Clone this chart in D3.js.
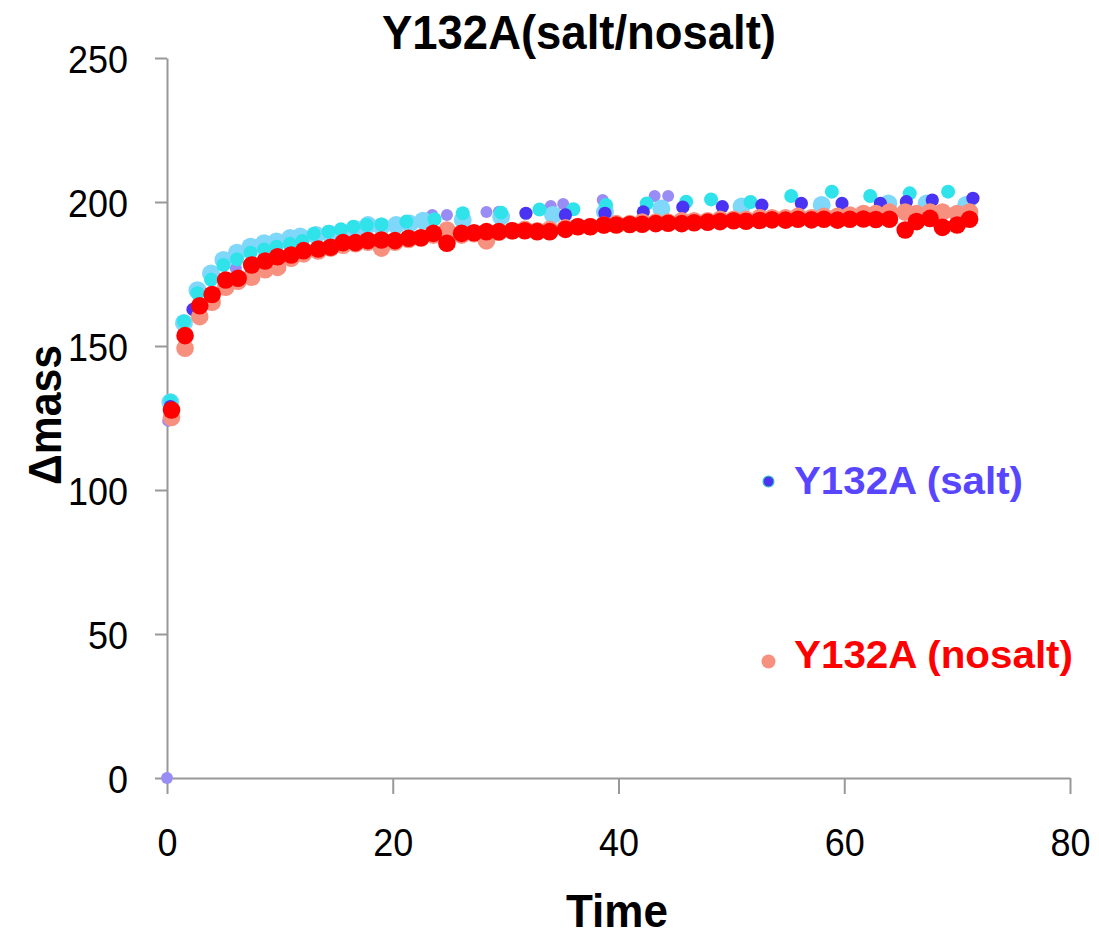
<!DOCTYPE html>
<html><head><meta charset="utf-8">
<script src="https://cdn.jsdelivr.net/npm/d3@7"></script>
<style>body{margin:0;background:#fff}svg{display:block}</style>
</head><body>
<svg id="c" width="1099" height="936"></svg>
<script>
// ---- data ----
const title = "Y132A(salt/nosalt)";
const xLabel = "Time";
const yLabel = "Δmass";
const xTicks = [0, 20, 40, 60, 80];
const yTicks = [0, 50, 100, 150, 200, 250];
const legendLabels = ["Y132A (salt)", "Y132A (nosalt)"];

// salt replicates
const purpleT = [0,0.1,1.5,2.7,3.9,5.0,6.1,7.4,8.6,9.7,10.8,12.1,14.4,15.6,19.0,20.2,23.5,24.8,28.3,29.4,34.0,35.1,38.6,43.2,44.4];
const purpleV = [0,124,156,162,168,172.5,177,179,181,183,185.1,187,189.0,190.3,192.4,192.8,195.5,195.5,196.5,196.6,198.6,199.3,200.7,202.1,202.1];

const lightBlueT = [0.3,1.5,2.7,3.9,5.0,6.2,7.4,8.6,9.7,10.9,11.8,13.2,14.4,15.5,16.7,17.8,19.0,20.3,21.5,22.7,26.2,29.6,34.2,38.8,43.8,50.9,58.0,63.9,67.3,70.8];
const lightBlueV = [130.5,158,169.4,175.2,179.9,182.4,184.5,185.7,186.3,187.5,188.0,188.5,189.0,189.5,190.5,192.0,191.5,192.0,192.5,193.5,193.8,194.9,195.5,196.5,197.7,198.4,199.0,199.5,199.5,199.0];

const cyanT = [0.3,1.5,2.7,3.9,5.0,6.2,7.4,8.6,9.7,10.9,12.0,13.0,14.3,15.4,16.5,17.7,19.0,21.2,23.7,26.2,29.6,33.0,36.0,38.9,42.5,46.0,48.2,51.7,55.3,58.9,62.3,65.8,69.2];
const cyanV = [131,158.5,168.3,173,178.1,180.1,182.4,183.5,184.5,185.5,186.5,189.0,189.7,190.5,191.4,192.0,192.2,193.2,194,196.1,196.3,197.4,197.5,199.0,199.5,200.1,200.9,200.0,202.1,203.6,202.1,203.0,203.6];

const darkBlueT = [0.3,2.3,31.8,35.3,38.8,42.2,45.7,49.2,52.7,56.2,59.8,63.2,65.5,67.8,71.4];
const darkBlueV = [129,162.7,196.1,195.5,196.1,196.6,198.2,198.4,198.9,199.5,199.5,199.5,200.1,200.7,201.3];

// nosalt replicates
const nosaltT = [0.4,1.6,2.9,4.0,5.2,6.3,7.5,8.7,9.8,11.0,12.1,13.4,14.5,15.6,16.7,17.8,19.0,20.2,21.4,22.5,23.6,24.8,26.1,27.2,28.3,29.4,30.6,31.7,32.8,33.9,35.3,36.4,37.5,38.7,39.8,41.0,42.1,43.3,44.4,45.6,46.7,47.9,49.0,50.2,51.3,52.5,53.6,54.8,55.9,57.1,58.2,59.4,60.5,61.7,62.8,64.0,65.4,66.4,67.6,68.7,70.0,71.1];
const salmonV = [125.2,149.2,160.2,165.2,170.4,172.5,173.9,176.5,177.3,180.5,182.0,
 183.0,184.0,185.0,185.5,186.0,184.0,186.0,187.0,187.5,188.5,190.3,
 188.5,189.0,186.5,189.5,190.0,190.5,190.0,190.5,191.0,191.5,191.5,192.0,
 192.5,192.5,193.0,193.0,193.0,193.5,193.5,193.5,194.0,194.0,194.0,194.5,194.5,194.5,195.0,194.5,195.0,195.0,195.5,196.0,196.0,196.5,
 196.5,196.0,196.5,196.5,196.0,196.5];
const redV = [127.8,153.6,164.0,167.9,172.9,173.5,178.1,179.5,181.0,181.6,183.1,
 183.7,184.3,185.9,185.9,186.6,186.8,186.6,187.4,187.6,189.1,185.7,
 189.1,189.3,189.7,189.7,190.0,190.0,189.7,189.7,190.5,191.4,191.4,192.0,
 192.0,192.2,192.3,192.5,192.6,192.5,192.8,193.0,193.2,193.5,193.3,193.6,193.8,193.7,194.0,193.8,194.0,193.7,194.0,194.1,193.9,194.0,
 190.3,193.2,194.3,191.2,192.0,194.0];

// ---- drawing ----
const FONT = "'Liberation Sans Narrow','Liberation Sans',Arial,sans-serif";
const svg = d3.select("#c");
const x = d3.scaleLinear().domain([0, 80]).range([167, 1070]);
const y = d3.scaleLinear().domain([0, 250]).range([778, 58]);
const AX = "#989898";

// axes
const gx = svg.append("g").attr("transform", "translate(0,778)")
  .call(d3.axisBottom(x).tickValues(xTicks).tickSize(16).tickSizeOuter(0));
const gy = svg.append("g").attr("transform", "translate(167,0)")
  .call(d3.axisLeft(y).tickValues(yTicks).tickSize(12).tickSizeOuter(0));
[gx, gy].forEach(g => {
  g.select(".domain").attr("stroke", AX).attr("stroke-width", 2);
  g.selectAll(".tick line").attr("stroke", AX).attr("stroke-width", 2);
  g.selectAll(".tick text").attr("fill", "#000").style("font-family", FONT)
    .style("font-size", "39px").attr("lengthAdjust", "spacingAndGlyphs")
    .attr("textLength", d => String(d).length * 20);
});
gx.selectAll(".tick text").attr("y", 78).attr("dy", 0);
gy.selectAll(".tick text").attr("x", -39).attr("dy", "0.36em");

// series (bottom to top)
const series = [
  {t: purpleT, v: purpleV, c: "#9A8CF5", r: 6},
  {t: lightBlueT, v: lightBlueV, c: "#7FD7FA", r: 9},
  {t: cyanT, v: cyanV, c: "#30E3EB", r: 7},
  {t: darkBlueT, v: darkBlueV, c: "#4A33F2", r: 6.6},
  {t: nosaltT, v: salmonV, c: "#F8907F", r: 8.8},
  {t: nosaltT, v: redV, c: "#FF0000", r: 8.8}
];
series.forEach(s => {
  svg.append("g").selectAll("circle").data(s.t.map((t, i) => [t, s.v[i]]))
    .join("circle").attr("cx", d => x(d[0])).attr("cy", d => y(d[1]))
    .attr("r", s.r).attr("fill", s.c);
});

// title & axis titles
svg.append("text").attr("x", 579).attr("y", 49).attr("text-anchor", "middle")
  .style("font-family", FONT).style("font-weight", "bold").style("font-size", "49px")
  .attr("textLength", 394).attr("lengthAdjust", "spacingAndGlyphs").text(title);
svg.append("text").attr("x", 617).attr("y", 927).attr("text-anchor", "middle")
  .style("font-family", FONT).style("font-weight", "bold").style("font-size", "46px")
  .attr("textLength", 102).attr("lengthAdjust", "spacingAndGlyphs").text(xLabel);
svg.append("text").attr("transform", "translate(61,415) rotate(-90)").attr("text-anchor", "middle")
  .style("font-family", FONT).style("font-weight", "bold").style("font-size", "46px")
  .attr("textLength", 140).attr("lengthAdjust", "spacingAndGlyphs").text(yLabel);

// legend
const leg = [
  {label: legendLabels[0], y: 481.5, text: 494.3, c: "#4A33F2", stroke: "#2FB8C8", r: 5.4, tc: "#5846FF", w: 229},
  {label: legendLabels[1], y: 661.5, text: 667.7, c: "#F8907F", stroke: "none", r: 7, tc: "#FF0000", w: 279}
];
leg.forEach(l => {
  svg.append("circle").attr("cx", 768.5).attr("cy", l.y).attr("r", l.r)
    .attr("fill", l.c).attr("stroke", l.stroke).attr("stroke-width", 1.2);
  svg.append("text").attr("x", 794).attr("y", l.text)
    .style("font-family", FONT).style("font-weight", "bold").style("font-size", "39.5px")
    .attr("fill", l.tc).attr("textLength", l.w).attr("lengthAdjust", "spacingAndGlyphs").text(l.label);
});
</script>
</body></html>
